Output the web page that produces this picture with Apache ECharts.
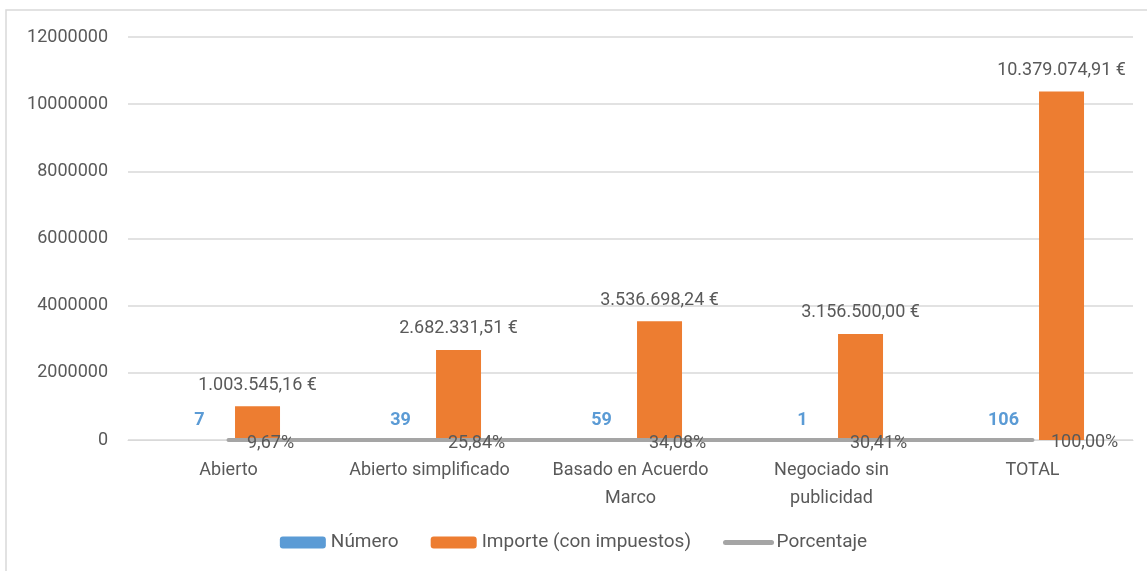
<!DOCTYPE html>
<html><head><meta charset="utf-8">
<script src="https://cdn.jsdelivr.net/npm/echarts@6/dist/echarts.min.js"></script>
<style>html,body{margin:0;padding:0;background:#fff}#c{width:1147px;height:571px}</style>
</head><body><div id="c"></div>
<script>
const categories = ['Abierto', 'Abierto simplificado', 'Basado en Acuerdo\nMarco', 'Negociado sin\npublicidad', 'TOTAL'];
const numero = [7, 39, 59, 1, 106];
const importe = [1003545.16, 2682331.51, 3536698.24, 3156500.00, 10379074.91];
const porcentaje = [0.0967, 0.2584, 0.3408, 0.3041, 1.0000];
const yTicks = { min: 0, max: 12000000, interval: 2000000 };

const FONT = 'Roboto';
const TXT = '#595959';
function eur(v) {
  const parts = v.toFixed(2).split('.');
  const intPart = parts[0].replace(/\B(?=(\d{3})+(?!\d))/g, '.');
  return intPart + ',' + parts[1] + ' €';
}
const chart = echarts.init(document.getElementById('c'));
chart.setOption({
  animation: false,
  textStyle: { fontFamily: FONT },
  graphic: [{ type: 'rect', shape: { x: 6, y: 10, width: 1200, height: 620 }, style: { fill: 'none', stroke: '#d9d9d9', lineWidth: 1.5 }, silent: true }],
  grid: { left: 128, right: 14, top: 37, bottom: 131 },
  legend: {
    bottom: 14, left: 'center', itemGap: 32, itemWidth: 46, itemHeight: 12,
    textStyle: { color: TXT, fontSize: 19, fontFamily: FONT },
    data: [{ name: 'Número' }, { name: 'Importe (con impuestos)' },
      { name: 'Porcentaje', lineStyle: { width: 5, cap: 'round', color: '#a5a5a5' } }]
  },
  xAxis: {
    type: 'category', data: categories,
    axisLine: { lineStyle: { color: '#d9d9d9' } }, axisTick: { show: false },
    axisLabel: { color: TXT, fontSize: 18, margin: 16, lineHeight: 28, fontFamily: FONT, interval: 0 }
  },
  yAxis: {
    type: 'value', min: yTicks.min, max: yTicks.max, interval: yTicks.interval,
    axisLine: { show: false }, axisTick: { show: false },
    splitLine: { lineStyle: { color: '#d9d9d9', width: 1.5 } },
    axisLabel: { color: TXT, fontSize: 18, margin: 20, fontFamily: FONT, formatter: v => String(v) }
  },
  series: [
    { name: 'Número', type: 'bar', data: numero, barWidth: 45, barGap: '29%',
      itemStyle: { color: '#5b9bd5' },
      label: { show: true, position: 'top', distance: 10, color: '#5b9bd5', fontWeight: 'bold', fontSize: 18, fontFamily: FONT } },
    { name: 'Importe (con impuestos)', type: 'bar', data: importe, barWidth: 45,
      itemStyle: { color: '#ed7d31' },
      label: { show: true, position: 'top', distance: 12, color: TXT, fontSize: 18, fontFamily: FONT, formatter: p => eur(p.value) } },
    { name: 'Porcentaje', type: 'line', data: porcentaje, symbol: 'circle', symbolSize: 1, showSymbol: true,
      lineStyle: { color: '#a5a5a5', width: 4, cap: 'round' }, itemStyle: { color: 'rgba(165,165,165,0)' },
      label: { show: true, position: 'right', distance: 18, offset: [0, 3], color: TXT, fontSize: 18, fontFamily: FONT,
        formatter: p => (p.value * 100).toFixed(2).replace('.', ',') + '%' } }
  ]
});
</script></body></html>
